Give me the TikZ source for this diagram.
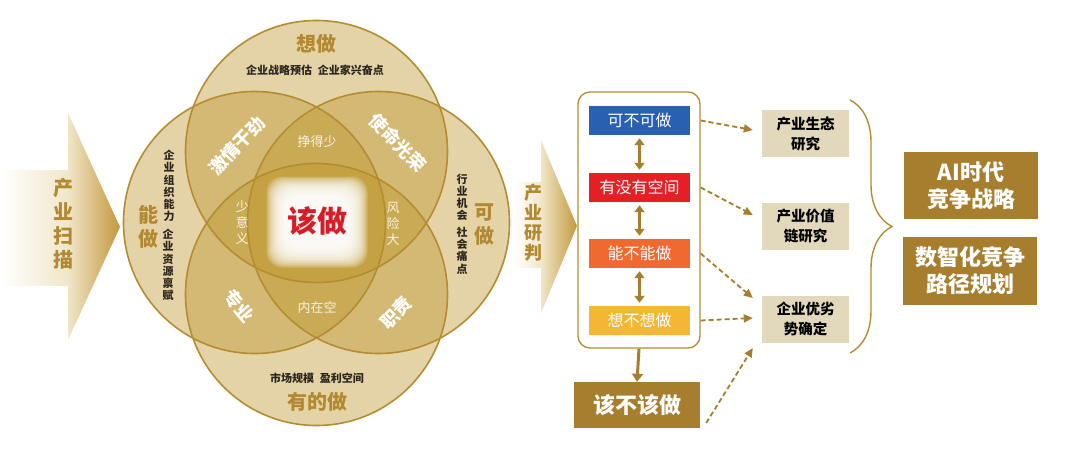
\documentclass[tikz,border=0pt]{standalone}
\usepackage{fontspec}
\setmainfont{Noto Sans CJK SC}
\usetikzlibrary{arrows.meta,decorations.pathreplacing,calc}
\definecolor{cfill}{RGB}{189,150,43}
\definecolor{cline}{RGB}{180,140,50}
\definecolor{gtext}{RGB}{178,136,48}
\definecolor{dgold}{RGB}{166,126,46}
\definecolor{tanbox}{RGB}{226,216,188}
\definecolor{bblue}{RGB}{42,96,178}
\definecolor{bred}{RGB}{226,32,38}
\definecolor{borange}{RGB}{240,106,48}
\definecolor{byellow}{RGB}{245,183,50}
\definecolor{innertxt}{RGB}{250,242,225}
\definecolor{dtext}{RGB}{45,38,30}
\definecolor{hred}{RGB}{215,30,40}
\definecolor{arrlight}{RGB}{240,230,200}
\definecolor{arrdark}{RGB}{196,152,62}
\begin{document}
\begin{tikzpicture}[x=1pt,y=-1pt,
  txt/.style={inner sep=0pt, align=center},
  big/.style={txt, text=gtext, font=\fontsize{20}{24}\selectfont\bfseries},
  small/.style={txt, text=dtext, font=\fontsize{11}{12.2}\selectfont\bfseries},
  wbold/.style={txt, text=white, font=\fontsize{18}{20}\selectfont\bfseries},
  wthin/.style={txt, text=innertxt, font=\fontsize{13}{16}\selectfont},
  cbox/.style={minimum width=101pt, minimum height=29pt, inner sep=0pt, text=white, font=\fontsize{16}{18}\selectfont},
  tbox/.style={fill=tanbox, minimum width=87pt, minimum height=47pt, inner sep=0pt, align=center, text=black, font=\fontsize{14.5}{20}\selectfont\bfseries},
  dbox/.style={fill=dgold, minimum width=134pt, minimum height=67pt, inner sep=0pt, align=center, text=white, font=\fontsize{22}{27}\selectfont\bfseries},
  dbl/.style={dgold, line width=3pt, {Triangle[length=7pt,width=10pt]}-{Triangle[length=7pt,width=10pt]}, shorten <=3pt, shorten >=3pt},
  dasharrow/.style={dgold, line width=1.8pt, dash pattern=on 5pt off 3pt, -{Triangle[length=9pt,width=8pt]}},
]
\useasboundingbox (0,0) rectangle (1080,463);
\fill[white] (0,0) rectangle (1080,463);

% left arrow
\shade[left color=white, right color=arrlight] (0,170) rectangle (69,285);
\shade[left color=arrlight, right color=arrdark] (68,113) -- (120,227) -- (68,340) -- cycle;
\node[txt, text=gtext, font=\fontsize{20}{24}\selectfont\bfseries] (scan) at (63,224) {产\\业\\扫\\描};

% circles
\foreach \cx/\cy in {254.5/222.5, 378.5/222.5, 316.5/151.5, 316.5/294.5}
  \fill[cfill, opacity=0.41] (\cx,\cy) circle[radius=131pt];
\foreach \cx/\cy in {254.5/222.5, 378.5/222.5, 316.5/151.5, 316.5/294.5}
  \draw[cline, line width=1.6pt] (\cx,\cy) circle[radius=131pt];

% glow
\foreach \i in {0,...,13}
  \fill[white, opacity=0.2, rounded corners=16pt] (286-1.5*\i,196-1.5*\i) rectangle (348+1.5*\i,248+1.5*\i);

% circle labels
\node[big] (xiang) at (316,44) {想做};
\node[small] (xiangd) at (315,70) {企业战略预估\hspace{6pt}企业家兴奋点};
\node[big] (neng) at (148,227) {能\\做};
\node[small] (nengd1) at (169,186) {企\\业\\组\\织\\能\\力};
\node[small] (nengd2) at (168,265) {企\\业\\资\\源\\禀\\赋};
\node[big] (ke) at (484,225) {可\\做};
\node[small] (ked1) at (462,197.5) {行\\业\\机\\会};
\node[small] (ked2) at (462,250.5) {社\\会\\痛\\点};
\node[small] (youd) at (317,378) {市场规模\hspace{6pt}盈利空间};
\node[big] (you) at (317,402) {有的做};
\node[wbold, rotate=47] (jq) at (237,146) {激情干劲};
\node[wbold, rotate=-46] (sm) at (398,143) {使命光荣};
\node[wbold, rotate=-50] (zy) at (239,306) {专业};
\node[wbold, rotate=45] (zz) at (396,313) {职责};
\node[wthin] (zds) at (317,142) {挣得少};
\node[wthin] (syy) at (242,223) {少\\意\\义};
\node[wthin] (fxd) at (393,224) {风\\险\\大};
\node[wthin] (nzk) at (317,308) {内在空};
\node[txt, text=hred, font=\fontsize{30}{32}\selectfont\bfseries] (gz) at (317,221) {该做};

% right arrow
\shade[left color=white, right color=arrlight] (514,182) rectangle (542,267);
\shade[left color=arrlight, right color=arrdark] (541,140) -- (577,226) -- (541,313) -- cycle;
\node[txt, text=gtext, font=\fontsize{18}{20}\selectfont\bfseries] (judge) at (533,223) {产\\业\\研\\判};

% flow chart
\node[draw=cline, line width=1.3pt, rounded corners=12pt, minimum width=122pt, minimum height=256pt, inner sep=0pt] (frame) at (639,220) {};
\node[cbox, fill=bblue] (b1) at (639.5,120.5) {可不可做};
\node[cbox, fill=bred] (b2) at (639.5,187.5) {有没有空间};
\node[cbox, fill=borange] (b3) at (639.5,253.5) {能不能做};
\node[cbox, fill=byellow] (b4) at (639.5,320.5) {想不想做};
\draw[dbl] (b1) -- (b2);
\draw[dbl] (b2) -- (b3);
\draw[dbl] (b3) -- (b4);
\node[fill=dgold, minimum width=126pt, minimum height=46pt, inner sep=0pt, text=white, font=\fontsize{22}{24}\selectfont\bfseries] (gai) at (637,405) {该不该做};
\draw[dgold, line width=3pt, -{Triangle[length=8pt,width=11pt]}] (frame.south) -- (gai.north);

\node[tbox] (t1) at (805.5,133.5) {产业生态\\研究};
\node[tbox] (t2) at (805.5,226) {产业价值\\链研究};
\node[tbox] (t3) at (805.5,319) {企业优劣\\势确定};

\draw[dasharrow] (frame.east |- b1.east) -- ($(t1.west)+(-9,-3.5)$);
\draw[dasharrow] (frame.east |- b2.east) -- ($(t2.west)+(-9,-11)$);
\draw[dasharrow] (frame.east |- b3.east) -- ($(t3.west)+(-9,-21)$);
\draw[dasharrow] (frame.east |- b4.east) -- ($(t3.west)+(-9,-1)$);
\draw[dasharrow] ($(gai.east)+(6,18)$) -- ($(t3.west)+(-9,29)$);

% brace
\coordinate (bt) at (850,100);
\coordinate (bb) at (850,353);
\draw[cline, line width=1.4pt, decorate, decoration={brace, amplitude=42pt}] (bt) -- (bb);

\node[dbox] (d1) at (971,185.5) {AI时代\\竞争战略};
\node[dbox, minimum height=68pt] (d2) at (970,271) {数智化竞争\\路径规划};
\end{tikzpicture}
\end{document}
